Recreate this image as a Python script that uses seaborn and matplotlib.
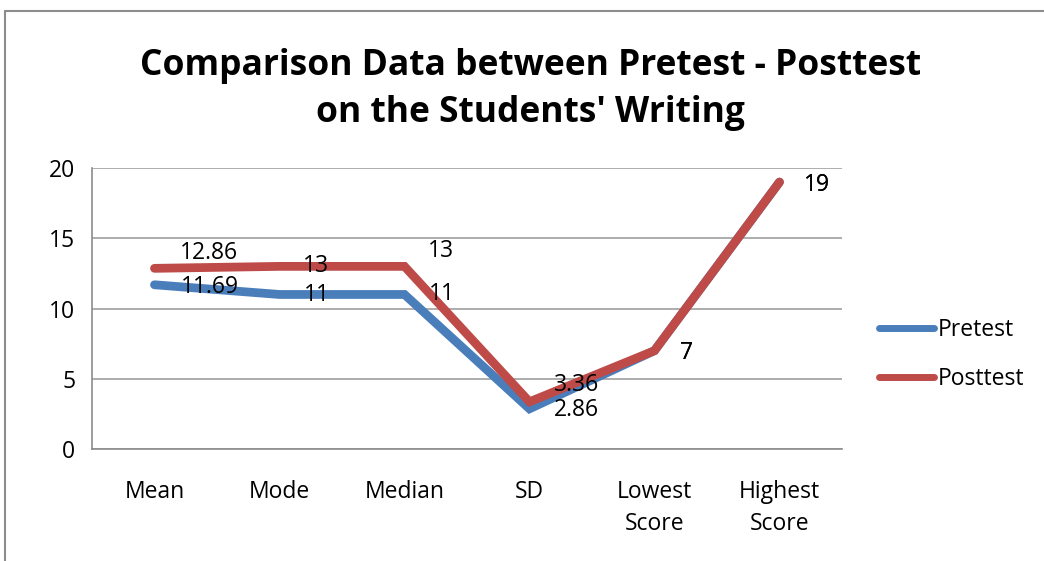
import matplotlib
matplotlib.use("Agg")
import matplotlib.pyplot as plt
import seaborn as sns
import pandas as pd
from matplotlib.lines import Line2D

# Dados do gráfico
categorias = ["Mean", "Mode", "Median", "SD", "Lowest\nScore", "Highest\nScore"]
pretest = [11.69, 11, 11, 2.86, 7, 19]
posttest = [12.86, 13, 13, 3.36, 7, 19]
rotulos_pre = ["11.69", "11", "11", "2.86", "7", "19"]
rotulos_pos = ["12.86", "13", "13", "3.36", "7", "19"]
series = ["Pretest", "Posttest"]
cores = ["#4A7EBB", "#BE4B48"]

df = pd.DataFrame({
    "categoria": categorias * 2,
    "valor": pretest + posttest,
    "serie": ["Pretest"] * len(pretest) + ["Posttest"] * len(posttest),
})

sns.set_style("white")
plt.rcParams["font.family"] = ["Open Sans", "DejaVu Sans"]
plt.rcParams["text.color"] = "black"
plt.rcParams["xtick.color"] = "black"
plt.rcParams["ytick.color"] = "black"

FONTE = 16.5

fig = plt.figure(figsize=(10.44, 5.61), dpi=100)
ax = fig.add_axes([0.0881, 0.1996, 0.7184, 0.5009])

sns.lineplot(data=df, x="categoria", y="valor", hue="serie", hue_order=series,
             palette=cores, linewidth=6.3, sort=False, ax=ax,
             solid_capstyle="round", solid_joinstyle="miter")

ax.set_xlim(-0.5, len(categorias) - 0.5)
ax.set_ylim(0, 20)
ax.set_yticks([0, 5, 10, 15, 20])
ax.yaxis.grid(True, color="#A0A0A0", linewidth=1.2)
ax.set_xlabel("")
ax.set_ylabel("")
for lado in ["top", "right"]:
    ax.spines[lado].set_visible(False)
for lado in ["left", "bottom"]:
    ax.spines[lado].set_color("#8C8C8C")
    ax.spines[lado].set_linewidth(1.2)
ax.tick_params(axis="y", labelsize=FONTE, pad=12, length=0)
ax.tick_params(axis="x", labelsize=FONTE, pad=22, length=0)
for rot in ax.get_xticklabels():
    rot.set_linespacing(1.45)

# Rótulos dos pontos (deslocamentos em pixels)
desl_pre = [(55, -2), (37, -1), (37, 0), (47, -1), (32, -2), (37, -3)]
desl_pos = [(55, 15), (37, 0), (37, 15), (47, 17), (32, -2), (37, -3)]
for i in range(len(categorias)):
    ax.annotate(rotulos_pre[i], (i, pretest[i]), xytext=desl_pre[i],
                textcoords="offset pixels", ha="center", va="center",
                fontsize=FONTE, color="black")
    ax.annotate(rotulos_pos[i], (i, posttest[i]), xytext=desl_pos[i],
                textcoords="offset pixels", ha="center", va="center",
                fontsize=FONTE, color="black")

ax.legend(handles=[Line2D([0], [0], color=c, linewidth=5, solid_capstyle="round")
                   for c in cores],
          labels=series, loc="center left", bbox_to_anchor=(1.05, 0.335),
          frameon=False, fontsize=FONTE, handlelength=2.4, handletextpad=0.15,
          labelspacing=1.1, borderpad=0, borderaxespad=0)

fig.suptitle("Comparison Data between Pretest - Posttest\non the Students' Writing",
             x=0.508, y=0.914, fontsize=25.5, fontweight="bold", linespacing=1.38,
             color="black")

# Moldura do gráfico (topo e esquerda)
fig.add_artist(Line2D([5 / 1044, 1], [1 - 11 / 561, 1 - 11 / 561],
                      color="#8C8C8C", linewidth=1.5))
fig.add_artist(Line2D([5 / 1044, 5 / 1044], [0, 1 - 11 / 561],
                      color="#8C8C8C", linewidth=1.5))

fig.savefig("out.png", dpi=100)
plt.close(fig)
